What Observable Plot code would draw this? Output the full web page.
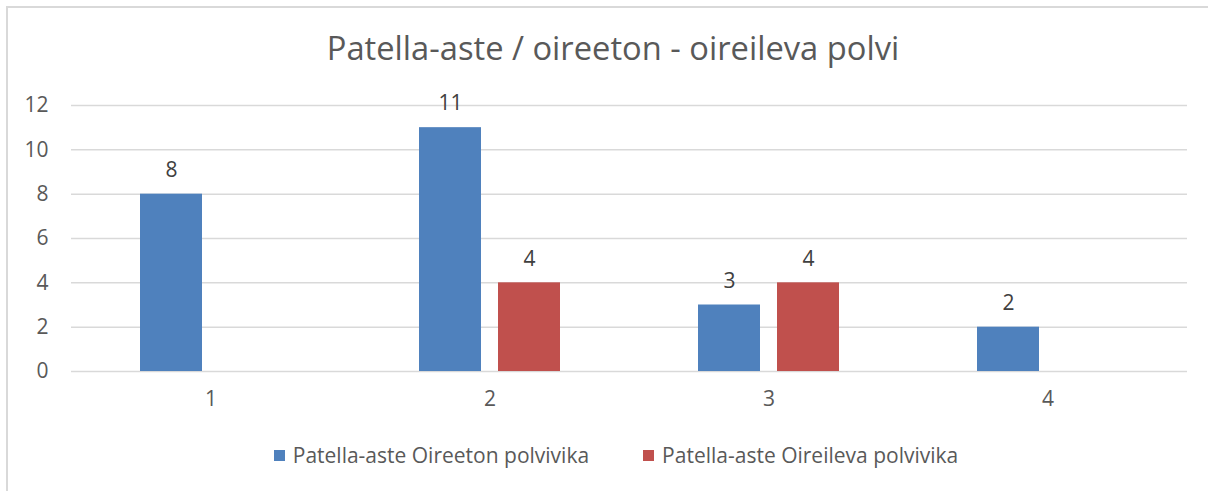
<!DOCTYPE html>
<html>
<head>
<meta charset="utf-8">
<script src="https://cdn.jsdelivr.net/npm/d3@7"></script>
<script src="https://cdn.jsdelivr.net/npm/@observablehq/plot@0.6"></script>
<style>
  html, body { margin: 0; padding: 0; background: #fff; }
  body { width: 1208px; height: 491px; overflow: hidden; position: relative; font-family: "Open Sans", sans-serif; }
  #frame { position: absolute; left: 6px; top: 6px; width: 1210px; height: 500px; border: 2px solid #D9D9D9; box-sizing: border-box; }
  #title { position: absolute; left: 9px; top: 25px; width: 1208px; text-align: center; font-size: 32.7px; color: #595959; }
  #chart { position: absolute; left: 0; top: 80px; }
  #legend { position: absolute; left: 12px; top: 441px; width: 1208px; display: flex; justify-content: center; gap: 54px; font-size: 21px; color: #595959; }
  .item { display: flex; align-items: center; }
  .sw { width: 11px; height: 11px; margin-right: 8px; }
</style>
</head>
<body>
<div id="frame"></div>
<div id="title">Patella-aste / oireeton - oireileva polvi</div>
<div id="chart"></div>
<div id="legend"></div>
<script>
const categories = ["1", "2", "3", "4"];
const series = ["Patella-aste Oireeton polvivika", "Patella-aste Oireileva polvivika"];
const oireeton = [8, 11, 3, 2];
const oireileva = [null, 4, 4, null];
const colors = ["#4F81BD", "#C0504D"];
const yTicks = [0, 2, 4, 6, 8, 10, 12];

const rows = [];
categories.forEach((c, i) => {
  if (oireeton[i] != null) rows.push({cat: c, series: series[0], value: oireeton[i]});
  if (oireileva[i] != null) rows.push({cat: c, series: series[1], value: oireileva[i]});
});

const chart = Plot.plot({
  width: 1208,
  height: 340,
  marginLeft: 70,
  marginRight: 21,
  marginTop: 25,
  marginBottom: 49,
  style: {fontFamily: "'Open Sans', sans-serif", background: "transparent"},
  fx: {domain: categories, padding: 0, label: null},
  x: {domain: series, axis: null, paddingInner: 0.2125, paddingOuter: 0.8516},
  y: {domain: [0, 12], axis: null},
  color: {domain: series, range: colors},
  marks: [
    Plot.ruleY(yTicks, {stroke: "#D9D9D9", strokeWidth: 1.5}),
    Plot.axisY({ticks: yTicks, tickSize: 0, tickPadding: 23, fontSize: 21, fill: "#595959", label: null, facetAnchor: "left"}),
    Plot.axisFx({anchor: "bottom", tickSize: 0, tickPadding: 20, fontSize: 21, fill: "#595959", label: null}),
    Plot.barY(rows, {fx: "cat", x: "series", y: "value", fill: "series"}),
    Plot.text(rows, {fx: "cat", x: "series", y: "value", text: d => String(d.value), dy: -24, fontSize: 21, fill: "#404040"})
  ]
});
document.getElementById("chart").appendChild(chart);

const legend = document.getElementById("legend");
series.forEach((s, i) => {
  const item = document.createElement("div");
  item.className = "item";
  const sw = document.createElement("div");
  sw.className = "sw";
  sw.style.background = colors[i];
  const t = document.createElement("span");
  t.textContent = s;
  item.appendChild(sw);
  item.appendChild(t);
  legend.appendChild(item);
});
</script>
</body>
</html>
